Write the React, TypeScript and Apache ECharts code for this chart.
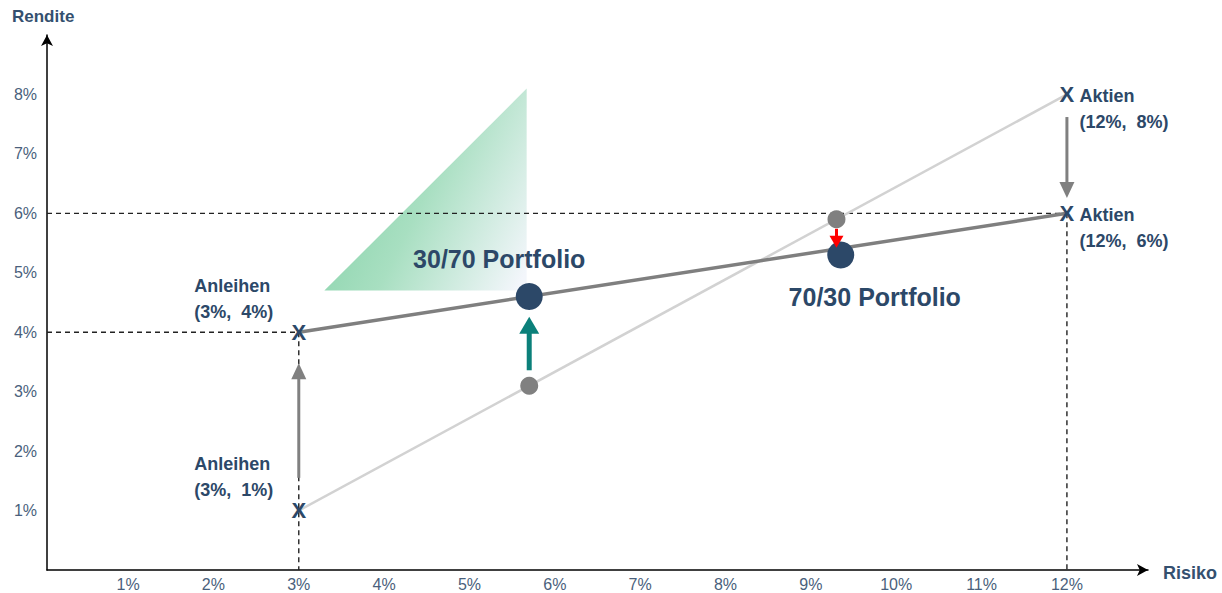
import React, { useEffect, useRef } from "react";
import * as echarts from "echarts";

// ---- data ----
const xTicks = [1, 2, 3, 4, 5, 6, 7, 8, 9, 10, 11, 12];
const yTicks = [1, 2, 3, 4, 5, 6, 7, 8];

const oldLine = [[3, 1], [12, 8]]; // Anleihen 1% -> Aktien 8%
const newLine = [[3, 4], [12, 6]]; // Anleihen 4% -> Aktien 6%

const dashedSegments = [
  [[0.05, 6], [12, 6]],
  [[12, 6], [12, 0]],
  [[0.05, 4], [3, 4]],
  [[3, 4], [3, 0]],
];

const xMarks = [[3, 1], [3, 4], [12, 6], [12, 8]];
const assetLabels = ["Anleihen\n(3%,  1%)", "Anleihen\n(3%,  4%)", "Aktien\n(12%,  6%)", "Aktien\n(12%,  8%)"];

const oldPortfolios = [[5.7, 3.1], [9.3, 5.9]];
const newPortfolios = [[5.7, 4.6], [9.35, 5.3]];
const portfolioNames = ["30/70 Portfolio", "70/30 Portfolio"];

// arrows: x, from y, to y
const arrowX = [12, 3, 5.7, 9.3];
const arrowFrom = [7.62, 1.55, 3.36, 5.74];
const arrowTo = [6.26, 3.48, 4.26, 5.42];

// decorative triangle
const triX = [3.3, 5.67, 5.67];
const triY = [4.7, 8.1, 4.7];

const FONT = "'Liberation Sans', Arial, sans-serif";
const NAVY = "#2c4868";
const TICK = "#4a5f7c";

export default function App() {
  const ref = useRef<HTMLDivElement>(null);

  useEffect(() => {
    if (!ref.current) return;
    const chart = echarts.init(ref.current, undefined, { renderer: "svg" });

    const arrowStyles = [
      { color: "#808080", shaft: 3, headW: 15, headL: 16 },
      { color: "#808080", shaft: 3, headW: 15, headL: 16 },
      { color: "#0b807a", shaft: 5, headW: 20, headL: 17 },
      { color: "#ff0000", shaft: 3, headW: 14, headL: 12 },
    ];

    const option: any = {
      animation: false,
      textStyle: { fontFamily: FONT },
      grid: { left: 47, right: 74, top: 35, bottom: 23 },
      xAxis: {
        type: "value",
        min: 0.05,
        max: 12.95,
        axisLine: {
          show: true,
          lineStyle: { color: "#000", width: 1.5 },
          symbol: ["none", "arrow"],
          symbolSize: [9, 11],
        },
        axisTick: { show: false },
        splitLine: { show: false },
        axisLabel: {
          customValues: xTicks,
          formatter: (v: number) => `${v}%`,
          color: TICK,
          fontSize: 16,
          fontFamily: FONT,
          margin: 6,
        },
      },
      yAxis: {
        type: "value",
        min: 0,
        max: 9,
        axisLine: {
          show: true,
          lineStyle: { color: "#000", width: 1.5 },
          symbol: ["none", "arrow"],
          symbolSize: [9, 11],
        },
        axisTick: { show: false },
        splitLine: { show: false },
        axisLabel: {
          customValues: yTicks,
          formatter: (v: number) => `${v}%`,
          color: TICK,
          fontSize: 16,
          fontFamily: FONT,
          margin: 10,
        },
      },
      graphic: [
        {
          type: "text",
          left: 12,
          top: 8,
          style: { text: "Rendite", fill: "#34506f", font: `bold 17px ${FONT}` },
        },
        {
          type: "text",
          left: 1163,
          top: 564,
          style: { text: "Risiko", fill: "#34506f", font: `bold 18px ${FONT}` },
        },
      ],
      series: [
        {
          type: "custom",
          z: 1,
          silent: true,
          data: [0],
          renderItem: (params: any, api: any) => {
            const pts = triX.map((x, i) => api.coord([x, triY[i]]));
            return {
              type: "polygon",
              shape: { points: pts },
              style: {
                fill: new echarts.graphic.LinearGradient(0, 0.4, 1, 0.9, [
                  { offset: 0, color: "#84d2a8" },
                  { offset: 0.45, color: "#a8dfc1" },
                  { offset: 1, color: "#f3f6fb" },
                ]),
              },
            };
          },
        },
        ...dashedSegments.map((seg) => ({
          type: "line",
          z: 2,
          data: seg,
          symbol: "none",
          silent: true,
          lineStyle: { color: "#222", width: 1.4, type: [5, 4] },
        })),
        {
          type: "line",
          z: 3,
          data: oldLine,
          symbol: "none",
          silent: true,
          lineStyle: { color: "#d2d2d2", width: 2.5 },
        },
        {
          type: "line",
          z: 4,
          data: newLine,
          symbol: "none",
          silent: true,
          lineStyle: { color: "#7f7f7f", width: 3.5 },
        },
        {
          type: "scatter",
          z: 6,
          data: oldPortfolios,
          symbolSize: 18,
          itemStyle: { color: "#808080", opacity: 1 },
          silent: true,
        },
        {
          type: "scatter",
          z: 7,
          data: newPortfolios.map((p, i) => ({
            value: p,
            label: {
              show: true,
              formatter: portfolioNames[i],
              position: i === 0 ? [-16.5, -24.5] : [47.5, 55.5],
              align: "center",
              verticalAlign: "middle",
              color: NAVY,
              fontSize: 25,
              fontWeight: "bold",
              fontFamily: FONT,
            },
          })),
          symbolSize: 27,
          itemStyle: { color: NAVY, opacity: 1 },
          silent: true,
        },
        {
          type: "custom",
          z: 8,
          silent: true,
          data: arrowX.map((x, i) => [x, arrowFrom[i], arrowTo[i]]),
          renderItem: (params: any, api: any) => {
            const i = params.dataIndex;
            const s = arrowStyles[i];
            const p1 = api.coord([api.value(0), api.value(1)]);
            const p2 = api.coord([api.value(0), api.value(2)]);
            const dir = p2[1] < p1[1] ? -1 : 1;
            const baseY = p2[1] - dir * s.headL;
            return {
              type: "group",
              children: [
                {
                  type: "line",
                  shape: { x1: p1[0], y1: p1[1], x2: p1[0], y2: baseY + dir * 1 },
                  style: { stroke: s.color, lineWidth: s.shaft },
                },
                {
                  type: "polygon",
                  shape: {
                    points: [
                      [p2[0], p2[1]],
                      [p2[0] - s.headW / 2, baseY],
                      [p2[0] + s.headW / 2, baseY],
                    ],
                  },
                  style: { fill: s.color },
                },
              ],
            };
          },
        },
        {
          type: "scatter",
          z: 9,
          data: xMarks.map((p, i) => ({
            value: p,
            label: {
              show: true,
              formatter: assetLabels[i],
              position: i < 2 ? [-104, -59] : [13, -11],
              align: "left",
              verticalAlign: "top",
              color: NAVY,
              fontSize: 18,
              fontWeight: "bold",
              lineHeight: 26,
              fontFamily: FONT,
            },
          })),
          symbolSize: 1,
          itemStyle: { color: "rgba(0,0,0,0)", opacity: 1 },
          silent: true,
        },
        {
          type: "scatter",
          z: 10,
          data: xMarks,
          symbolSize: 1,
          itemStyle: { color: "rgba(0,0,0,0)", opacity: 1 },
          silent: true,
          label: {
            show: true,
            formatter: "X",
            position: "inside",
            color: NAVY,
            fontSize: 22,
            fontWeight: "bold",
            fontFamily: FONT,
          },
        },
      ],
    };

    chart.setOption(option);
    return () => chart.dispose();
  }, []);

  return (
    <div
      ref={ref}
      style={{ width: 1222, height: 593, position: "fixed", left: 0, top: 0, background: "#fff" }}
    />
  );
}
